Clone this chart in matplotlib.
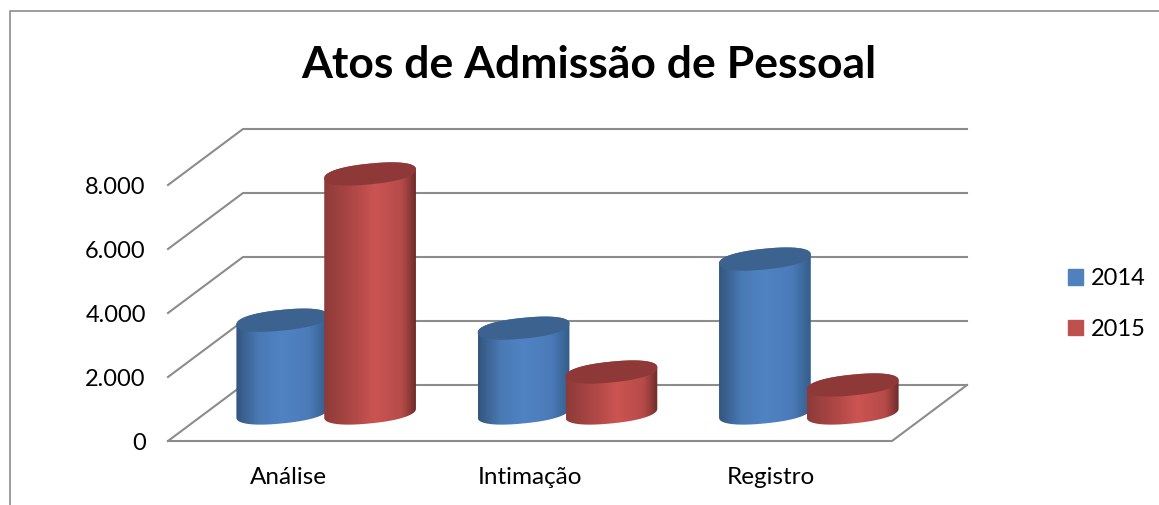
import numpy as np
import matplotlib
matplotlib.use("Agg")
import matplotlib.pyplot as plt
from matplotlib.colors import LinearSegmentedColormap
from matplotlib.lines import Line2D
from matplotlib.patches import Patch, Polygon

categories = ["Análise", "Intimação", "Registro"]
years = ["2014", "2015"]
values_2014 = [2900, 2650, 4810]
values_2015 = [7470, 1280, 875]
y_ticks = [0, 2000, 4000, 6000, 8000]
y_tick_labels = ["0", "2.000", "4.000", "6.000", "8.000"]

W, H = 1159, 505
GRID = "#8c8c8c"

# Oblique depth of the fake 3D box, in data units
DEPTH_X = 75 / 241.33
DEPTH_Y = 1750
BAR_OFFSET = 0.182
RX = 0.19
RY = 325
TILT = 140
ROUND = 0.88

plt.rcParams["font.family"] = ["Lato", "DejaVu Sans"]

cmap_blue = LinearSegmentedColormap.from_list(
    "blue3d", [(0, "#33557f"), (0.25, "#4a7ab5"), (0.5, "#5083c4"), (0.8, "#4b7ab8"), (1, "#345d8a")])
cmap_red = LinearSegmentedColormap.from_list(
    "red3d", [(0, "#8d3a38"), (0.4, "#b84c4a"), (0.55, "#cc5452"), (0.85, "#b54b49"), (1, "#6e2c2a")])


def ellipse(cx, cy, t):
    # Slightly squared ellipse, sheared so the right end sits higher
    c = np.sign(np.cos(t)) * np.abs(np.cos(t)) ** ROUND
    s = np.sign(np.sin(t)) * np.abs(np.sin(t)) ** ROUND
    return cx + RX * c, cy + RY * s + TILT * c


def draw_cylinder(ax, cx, value, cmap, top_color, z):
    base_y = DEPTH_Y / 2
    top_y = base_y + value
    t_low = np.linspace(np.pi, 2 * np.pi, 80)
    t_up = np.linspace(0, np.pi, 80)
    x_low, y_low = ellipse(cx, base_y, t_low)
    x_up, y_up = ellipse(cx, top_y, t_up)
    # Side of the cylinder: gradient clipped to the outline
    body = Polygon(np.column_stack([np.r_[x_low, x_up], np.r_[y_low, y_up]]),
                   facecolor="none", edgecolor="none", zorder=z, clip_on=False)
    ax.add_patch(body)
    y_min = base_y - RY - TILT
    y_max = top_y + RY + TILT
    img = ax.imshow(np.linspace(0, 1, 256).reshape(1, -1), cmap=cmap, aspect="auto",
                    extent=(cx - RX, cx + RX, y_min, y_max), zorder=z, interpolation="bilinear")
    # Images get cut at the axes box unless told otherwise, the bars stick out of it
    img.set_clip_path(body)
    img.set_clip_box(ax.figure.bbox)
    t = np.linspace(0, 2 * np.pi, 160)
    x_top, y_top = ellipse(cx, top_y, t)
    ax.fill(x_top, y_top, color=top_color, lw=0, zorder=z + 0.5, clip_on=False)


fig = plt.figure(figsize=(W / 100, H / 100), dpi=100)
ax = fig.add_axes([168 / W, (H - 441) / H, (892 - 168) / W, (441 - 185) / H])

# Back wall, side wall and floor
x0, x1 = -0.5, 2.5
for v in y_ticks:
    ax.plot([x0, x0 + DEPTH_X, x1 + DEPTH_X], [v, v + DEPTH_Y, v + DEPTH_Y],
            color=GRID, lw=1.5, clip_on=False, zorder=1)
ax.plot([x0, x1, x1 + DEPTH_X], [0, 0, DEPTH_Y], color=GRID, lw=1.5, clip_on=False, zorder=1)

z = 2
for i in range(len(categories)):
    draw_cylinder(ax, i + DEPTH_X / 2 - BAR_OFFSET, values_2014[i], cmap_blue, "#3c6390", z)
    draw_cylinder(ax, i + DEPTH_X / 2 + BAR_OFFSET, values_2015[i], cmap_red, "#8e3937", z + 1)
    z += 2

ax.set_xlim(x0, x1)
ax.set_ylim(0, 8000)
ax.set_xticks(range(len(categories)))
ax.set_xticklabels(categories, fontsize=17.5)
ax.set_yticks(y_ticks)
ax.set_yticklabels(y_tick_labels, fontsize=17)
ax.tick_params(axis="x", length=0, pad=19)
ax.tick_params(axis="y", length=0, pad=16)
for spine in ax.spines.values():
    spine.set_visible(False)
ax.patch.set_alpha(0)

fig.text(589 / W, (H - 78) / H, "Atos de Admissão de Pessoal", fontsize=32, fontweight="bold",
         ha="center", va="baseline", color="black")

handles = [Patch(color="#4f81bd"), Patch(color="#c0504d")]
fig.legend(handles, years, loc="center left", bbox_to_anchor=(1068 / W, (H - 304) / H), frameon=False,
           fontsize=17, handlelength=0.63, handleheight=0.63, handletextpad=0.33, labelspacing=1.25,
           borderpad=0, borderaxespad=0)

# Chart frame, only top and left show in the crop
fig.add_artist(Line2D([9.5 / W, 9.5 / W, 1], [0, (H - 11) / H, (H - 11) / H], color=GRID, lw=1.2))

fig.savefig("out.png", dpi=100)
plt.close("all")
